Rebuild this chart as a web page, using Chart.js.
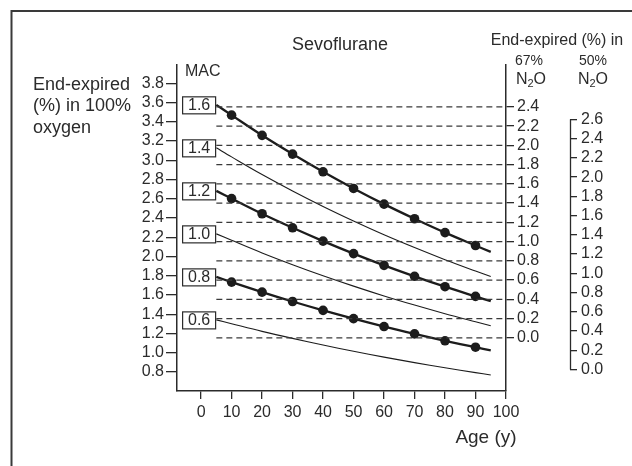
<!DOCTYPE html>
<html>
<head>
<meta charset="utf-8">
<script src="https://cdn.jsdelivr.net/npm/chart.js@4.4.1/dist/chart.umd.min.js"></script>
<style>
  html, body { margin: 0; padding: 0; background: #fff; }
  canvas { display: block; }
</style>
</head>
<body>
<canvas id="sevo" width="632" height="466"></canvas>
<script>
const ages = [5, 10, 20, 30, 40, 50, 60, 70, 80, 90, 95];
const dotAges = [10, 20, 30, 40, 50, 60, 70, 80, 90];

// end-expired % in 100% oxygen, one list per MAC multiple
const mac16 = [3.576, 3.469, 3.259, 3.064, 2.880, 2.707, 2.544, 2.392, 2.248, 2.114, 2.048];
const mac14 = [3.129, 3.035, 2.852, 2.681, 2.520, 2.369, 2.226, 2.093, 1.967, 1.849, 1.792];
const mac12 = [2.682, 2.602, 2.444, 2.298, 2.160, 2.030, 1.908, 1.794, 1.686, 1.585, 1.536];
const mac10 = [2.235, 2.168, 2.037, 1.915, 1.800, 1.692, 1.590, 1.495, 1.405, 1.321, 1.280];
const mac08 = [1.788, 1.734, 1.630, 1.532, 1.440, 1.354, 1.272, 1.196, 1.124, 1.057, 1.024];
const mac06 = [1.341, 1.301, 1.222, 1.149, 1.080, 1.015, 0.954, 0.897, 0.843, 0.793, 0.768];

const macLabels = ["1.6", "1.4", "1.2", "1.0", "0.8", "0.6"];
const macSeries = [mac16, mac14, mac12, mac10, mac08, mac06];
const macWithDots = [true, false, true, false, true, false];

// tick labels
const ageTicks = [0, 10, 20, 30, 40, 50, 60, 70, 80, 90, 100];
const o2Ticks = [0.8, 1.0, 1.2, 1.4, 1.6, 1.8, 2.0, 2.2, 2.4, 2.6, 2.8, 3.0, 3.2, 3.4, 3.6, 3.8];
const n2o67Ticks = [0.0, 0.2, 0.4, 0.6, 0.8, 1.0, 1.2, 1.4, 1.6, 1.8, 2.0, 2.2, 2.4];
const n2o50Ticks = [0.0, 0.2, 0.4, 0.6, 0.8, 1.0, 1.2, 1.4, 1.6, 1.8, 2.0, 2.2, 2.4, 2.6];

// how far the N2O scales sit below the oxygen scale
const offset67 = 1.155;
const offset50 = 0.825;
const dashFrom = 5, dashTo = 100;

const yMin = 0.602, yMax = 3.99;
const ink = "#2b2b2b";
const FONT = "'Liberation Sans', Arial, Helvetica, sans-serif";

const datasets = [];

n2o67Ticks.forEach((v) => {
  datasets.push({
    data: [{ x: dashFrom, y: v }, { x: dashTo, y: v }],
    yAxisID: "y67",
    borderColor: "#3a3a3a",
    borderWidth: 1.3,
    borderDash: [6, 4],
    pointRadius: 0,
  });
});

macSeries.forEach((vals, k) => {
  const thick = macWithDots[k];
  datasets.push({
    label: macLabels[k] + " MAC",
    data: ages.map((a, i) => ({ x: a, y: vals[i] })),
    yAxisID: "y",
    borderColor: "#1c1c1c",
    backgroundColor: "#1c1c1c",
    borderWidth: thick ? 2.3 : 1.1,
    tension: 0.35,
    pointRadius: ages.map((a) => (thick && dotAges.includes(a) ? 4.8 : 0)),
    pointBorderWidth: 0,
  });
});

function setTicks(list) {
  return (s) => { s.ticks = list.map((v) => ({ value: v })); };
}

const decor = {
  id: "decor",
  beforeDraw(chart) {
    const c = chart.ctx;
    c.save();
    c.fillStyle = "#fff";
    c.fillRect(0, 0, chart.width, chart.height);
    c.strokeStyle = "#3a3a3a";
    c.lineWidth = 2;
    c.beginPath();
    c.moveTo(11.5, 466);
    c.lineTo(11.5, 11);
    c.lineTo(632, 11);
    c.stroke();
    c.restore();
  },
  afterDraw(chart) {
    const c = chart.ctx;
    const xs = chart.scales.x, ys = chart.scales.y, y50 = chart.scales.y50;
    c.save();
    c.fillStyle = ink;
    c.textBaseline = "middle";

    // bracket line of the 50% N2O scale
    c.strokeStyle = ink;
    c.lineWidth = 1.3;
    c.beginPath();
    c.moveTo(y50.left + 0.5, y50.getPixelForValue(n2o50Ticks[n2o50Ticks.length - 1]));
    c.lineTo(y50.left + 0.5, y50.getPixelForValue(n2o50Ticks[0]));
    c.stroke();

    // MAC boxes at the start of each curve
    c.font = "16px " + FONT;
    c.textAlign = "center";
    macSeries.forEach((vals, k) => {
      const yc = ys.getPixelForValue(vals[0]);
      const right = xs.getPixelForValue(4.6);
      const w = 33, h = 17;
      c.fillStyle = "#fff";
      c.fillRect(right - w, yc - h / 2, w, h);
      c.strokeStyle = ink;
      c.lineWidth = 1.2;
      c.strokeRect(right - w + 0.5, yc - h / 2 + 0.5, w, h);
      c.fillStyle = ink;
      c.fillText(macLabels[k], right - w / 2 + 0.5, yc + 1);
    });

    c.font = "18px " + FONT;
    c.fillText("Sevoflurane", 340, 45);

    c.textAlign = "left";
    c.font = "16px " + FONT;
    c.fillText("MAC", 185, 72);

    c.font = "18px " + FONT;
    c.fillText("End-expired", 33, 85);
    c.fillText("(%) in 100%", 33, 106.5);
    c.fillText("oxygen", 33, 128);

    c.textAlign = "center";
    c.font = "16px " + FONT;
    c.fillText("End-expired (%) in", 557, 41);
    c.font = "14px " + FONT;
    c.fillText("67%", 529, 61);
    c.fillText("50%", 593, 61);

    [531, 593].forEach((cx) => {
      c.font = "16px " + FONT;
      const wN = c.measureText("N").width, wO = c.measureText("O").width;
      c.font = "11px " + FONT;
      const w2 = c.measureText("2").width;
      let x = cx - (wN + w2 + wO) / 2;
      c.textAlign = "left";
      c.font = "16px " + FONT;
      c.fillText("N", x, 80);
      c.font = "11px " + FONT;
      c.fillText("2", x + wN, 84);
      c.font = "16px " + FONT;
      c.fillText("O", x + wN + w2, 80);
    });

    c.textAlign = "center";
    c.font = "19px " + FONT;
    c.fillText("Age (y)", 486, 438);
    c.restore();
  },
};

const axisGrid = (len) => ({
  drawOnChartArea: false,
  drawTicks: true,
  tickLength: len,
  color: ink,
  lineWidth: 1.3,
});
const tickFont = { family: FONT, size: 16 };

new Chart(document.getElementById("sevo"), {
  type: "line",
  data: { datasets },
  options: {
    responsive: false,
    animation: false,
    devicePixelRatio: 1,
    layout: { padding: { top: 65, left: 0, right: 0, bottom: 0 } },
    plugins: { legend: { display: false }, tooltip: { enabled: false }, title: { display: false } },
    scales: {
      x: {
        type: "linear",
        position: "bottom",
        min: -7.9,
        max: 100,
        afterBuildTicks: setTicks(ageTicks),
        afterFit: (s) => { s.height = 75; },
        grid: axisGrid(8),
        border: { display: true, color: ink, width: 1.5 },
        ticks: { font: tickFont, color: ink, padding: 4, maxRotation: 0, autoSkip: false, callback: (v) => String(v) },
      },
      y: {
        type: "linear",
        position: "left",
        min: yMin,
        max: yMax,
        afterBuildTicks: setTicks(o2Ticks),
        afterFit: (s) => { s.width = 177; },
        grid: axisGrid(11),
        border: { display: true, color: ink, width: 1.5 },
        ticks: { font: tickFont, color: ink, padding: 2, autoSkip: false, callback: (v) => v.toFixed(1) },
      },
      y67: {
        type: "linear",
        position: "right",
        min: yMin - offset67,
        max: yMax - offset67,
        afterBuildTicks: setTicks(n2o67Ticks),
        afterFit: (s) => { s.width = 64; },
        grid: axisGrid(8),
        border: { display: true, color: ink, width: 1.5 },
        ticks: { font: tickFont, color: ink, padding: 3, autoSkip: false, callback: (v) => v.toFixed(1) },
      },
      y50: {
        type: "linear",
        position: "right",
        min: yMin - offset50,
        max: yMax - offset50,
        afterBuildTicks: setTicks(n2o50Ticks),
        afterFit: (s) => { s.width = 62; },
        grid: axisGrid(7),
        border: { display: false },
        ticks: { font: tickFont, color: ink, padding: 4, autoSkip: false, callback: (v) => v.toFixed(1) },
      },
    },
  },
  plugins: [decor],
});
</script>
</body>
</html>
